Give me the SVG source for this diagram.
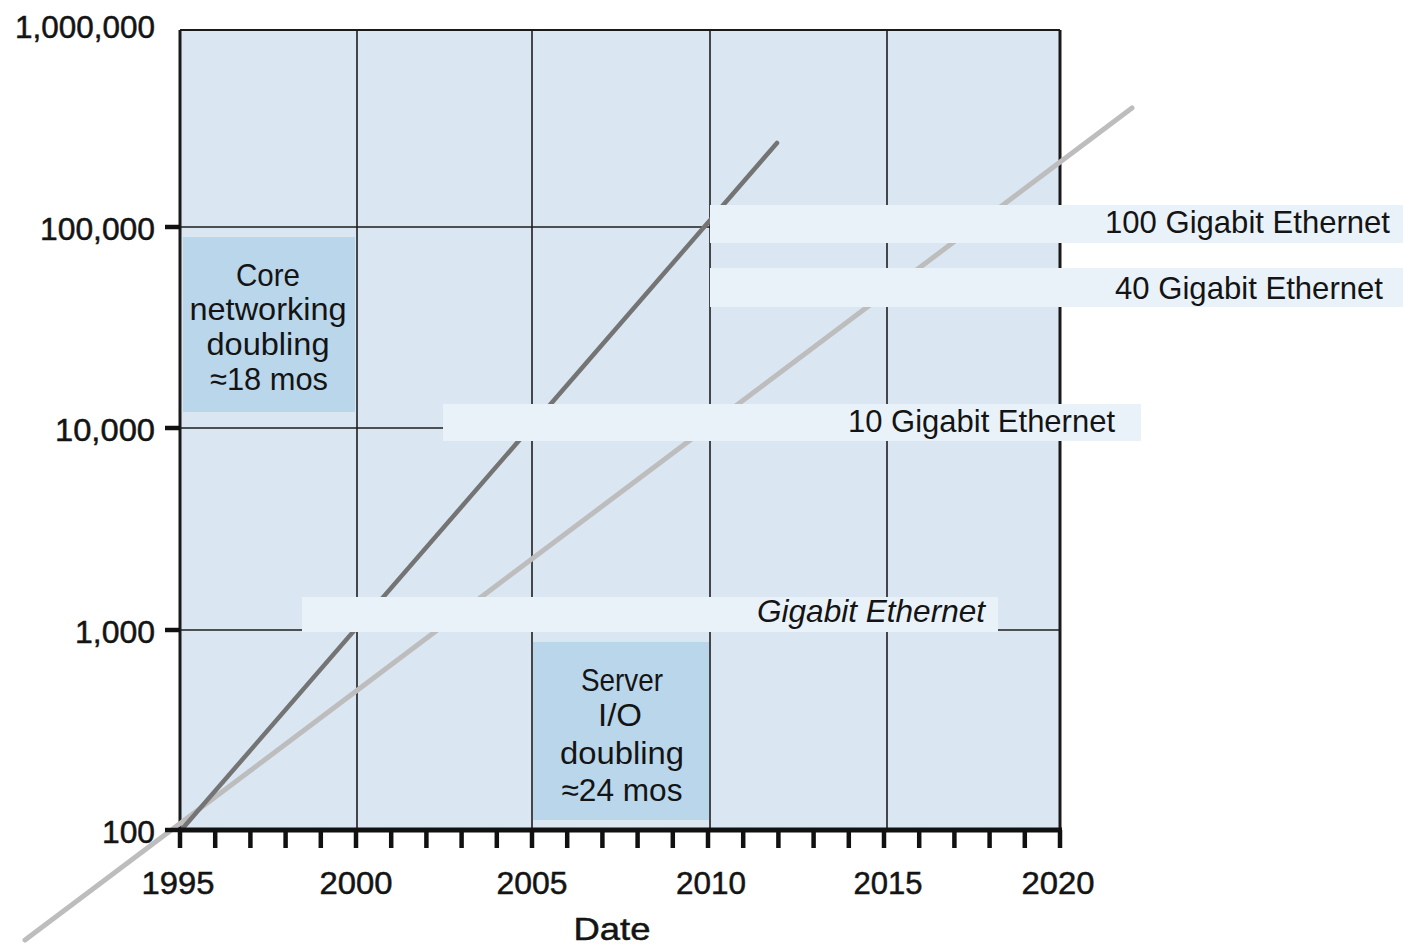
<svg xmlns="http://www.w3.org/2000/svg" width="1403" height="946" viewBox="0 0 1403 946">
  <style>
    .txt { font-family: "Liberation Sans Narrow", "Liberation Sans", Arial, sans-serif; fill: #141414; font-size: 32px; }
    .ax { stroke: #141414; stroke-width: 0.5; }
    .ylab { text-anchor: end; }
    .xlab { text-anchor: middle; }
    .grid { stroke: #1e1e1e; stroke-width: 1.6; fill: none; }
    .frame { stroke: #1a1a1a; stroke-width: 3; fill: none; }
    .tick { stroke: #111; stroke-width: 4.5; }
    .band { fill: #eaf2f9; }
    .note { fill: #bad6ea; }
  </style>

  <!-- plot background -->
  <g id="plot-area">
    <rect x="180" y="30" width="880" height="800" fill="#dae7f2"/>
    <!-- vertical grid: 2000, 2005, 2010, 2015 -->
    <line class="grid" x1="357" y1="30" x2="357" y2="830"/>
    <line class="grid" x1="532" y1="30" x2="532" y2="830"/>
    <line class="grid" x1="710" y1="30" x2="710" y2="830"/>
    <line class="grid" x1="887" y1="30" x2="887" y2="830"/>
    <!-- horizontal grid: decades -->
    <line class="grid" x1="180" y1="227" x2="1060" y2="227"/>
    <line class="grid" x1="180" y1="428" x2="1060" y2="428"/>
    <line class="grid" x1="180" y1="630" x2="1060" y2="630"/>
    <!-- frame -->
    <line x1="180" y1="30" x2="1060" y2="30" stroke="#1a1a1a" stroke-width="2.2"/>
    <line class="frame" x1="180" y1="30" x2="180" y2="832"/>
    <line class="frame" x1="1060" y1="30" x2="1060" y2="832"/>
  </g>

  <!-- trend lines -->
  <g id="connectors">
    <line id="server-io" x1="25" y1="940" x2="1132" y2="108" stroke="#bdbdbd" stroke-width="5" stroke-linecap="round"/>
    <line id="core-net" x1="183" y1="828" x2="777" y2="143" stroke="#747474" stroke-width="4.5" stroke-linecap="round"/>
  </g>

  <!-- annotation boxes -->
  <g id="core-box">
    <rect class="note" x="183" y="237" width="172" height="175"/>
    <text class="txt xlab" x="268" y="286" textLength="64" lengthAdjust="spacingAndGlyphs">Core</text>
    <text class="txt xlab" x="268" y="320" textLength="157" lengthAdjust="spacingAndGlyphs">networking</text>
    <text class="txt xlab" x="268" y="355" textLength="123" lengthAdjust="spacingAndGlyphs">doubling</text>
    <text class="txt xlab" x="269" y="390" textLength="118" lengthAdjust="spacingAndGlyphs">≈18 mos</text>
  </g>
  <g id="server-box">
    <rect class="note" x="533" y="642" width="176" height="178"/>
    <text class="txt xlab" x="622" y="691" textLength="82" lengthAdjust="spacingAndGlyphs">Server</text>
    <text class="txt xlab" x="620" y="726" textLength="44" lengthAdjust="spacingAndGlyphs">I/O</text>
    <text class="txt xlab" x="622" y="764" textLength="124" lengthAdjust="spacingAndGlyphs">doubling</text>
    <text class="txt xlab" x="622" y="801" textLength="121" lengthAdjust="spacingAndGlyphs">≈24 mos</text>
  </g>

  <!-- standard labels -->
  <g id="gbe">
    <rect class="band" x="302" y="597" width="696" height="35"/>
    <text class="txt" x="757" y="622" font-size="30" font-style="italic" textLength="228" lengthAdjust="spacingAndGlyphs">Gigabit Ethernet</text>
  </g>
  <g id="gbe-10">
    <rect class="band" x="443" y="404" width="698" height="37"/>
    <text class="txt" x="848" y="432" textLength="267" lengthAdjust="spacingAndGlyphs">10 Gigabit Ethernet</text>
  </g>
  <g id="gbe-40">
    <rect class="band" x="710" y="268" width="693" height="39"/>
    <text class="txt" x="1115" y="299" textLength="268" lengthAdjust="spacingAndGlyphs">40 Gigabit Ethernet</text>
  </g>
  <g id="gbe-100">
    <rect class="band" x="710" y="205" width="693" height="38"/>
    <text class="txt" x="1105" y="233" textLength="285" lengthAdjust="spacingAndGlyphs">100 Gigabit Ethernet</text>
  </g>

  <!-- y axis -->
  <g id="y-axis">
    <line class="tick" x1="165" y1="227" x2="180" y2="227"/>
    <line class="tick" x1="165" y1="428" x2="180" y2="428"/>
    <line class="tick" x1="165" y1="630" x2="180" y2="630"/>
    <line class="tick" x1="165" y1="830" x2="180" y2="830"/>
    <text class="txt ylab ax" x="155" y="38" textLength="140" lengthAdjust="spacingAndGlyphs">1,000,000</text>
    <text class="txt ylab ax" x="155" y="240" textLength="115" lengthAdjust="spacingAndGlyphs">100,000</text>
    <text class="txt ylab ax" x="155" y="441" textLength="100" lengthAdjust="spacingAndGlyphs">10,000</text>
    <text class="txt ylab ax" x="155" y="643" textLength="80" lengthAdjust="spacingAndGlyphs">1,000</text>
    <text class="txt ylab ax" x="155" y="843" textLength="53" lengthAdjust="spacingAndGlyphs">100</text>
  </g>

  <!-- x axis -->
  <g id="x-axis">
    <line x1="178" y1="830" x2="1062" y2="830" stroke="#111" stroke-width="5"/>
    <g class="tick">
      <line x1="180" y1="830" x2="180" y2="848"/>
      <line x1="215.2" y1="830" x2="215.2" y2="848"/>
      <line x1="250.4" y1="830" x2="250.4" y2="848"/>
      <line x1="285.6" y1="830" x2="285.6" y2="848"/>
      <line x1="320.8" y1="830" x2="320.8" y2="848"/>
      <line x1="356" y1="830" x2="356" y2="848"/>
      <line x1="391.2" y1="830" x2="391.2" y2="848"/>
      <line x1="426.4" y1="830" x2="426.4" y2="848"/>
      <line x1="461.6" y1="830" x2="461.6" y2="848"/>
      <line x1="496.8" y1="830" x2="496.8" y2="848"/>
      <line x1="532" y1="830" x2="532" y2="848"/>
      <line x1="567.2" y1="830" x2="567.2" y2="848"/>
      <line x1="602.4" y1="830" x2="602.4" y2="848"/>
      <line x1="637.6" y1="830" x2="637.6" y2="848"/>
      <line x1="672.8" y1="830" x2="672.8" y2="848"/>
      <line x1="708" y1="830" x2="708" y2="848"/>
      <line x1="743.2" y1="830" x2="743.2" y2="848"/>
      <line x1="778.4" y1="830" x2="778.4" y2="848"/>
      <line x1="813.6" y1="830" x2="813.6" y2="848"/>
      <line x1="848.8" y1="830" x2="848.8" y2="848"/>
      <line x1="884" y1="830" x2="884" y2="848"/>
      <line x1="919.2" y1="830" x2="919.2" y2="848"/>
      <line x1="954.4" y1="830" x2="954.4" y2="848"/>
      <line x1="989.6" y1="830" x2="989.6" y2="848"/>
      <line x1="1024.8" y1="830" x2="1024.8" y2="848"/>
      <line x1="1060" y1="830" x2="1060" y2="848"/>
    </g>
    <text class="txt xlab ax" x="178" y="894" textLength="73" lengthAdjust="spacingAndGlyphs">1995</text>
    <text class="txt xlab ax" x="356" y="894" textLength="73" lengthAdjust="spacingAndGlyphs">2000</text>
    <text class="txt xlab ax" x="532" y="894" textLength="71" lengthAdjust="spacingAndGlyphs">2005</text>
    <text class="txt xlab ax" x="711" y="894" textLength="70" lengthAdjust="spacingAndGlyphs">2010</text>
    <text class="txt xlab ax" x="888" y="894" textLength="69" lengthAdjust="spacingAndGlyphs">2015</text>
    <text class="txt xlab ax" x="1058" y="894" textLength="73" lengthAdjust="spacingAndGlyphs">2020</text>
    <text class="txt xlab ax" x="612" y="940" textLength="77" lengthAdjust="spacingAndGlyphs">Date</text>
  </g>
</svg>
